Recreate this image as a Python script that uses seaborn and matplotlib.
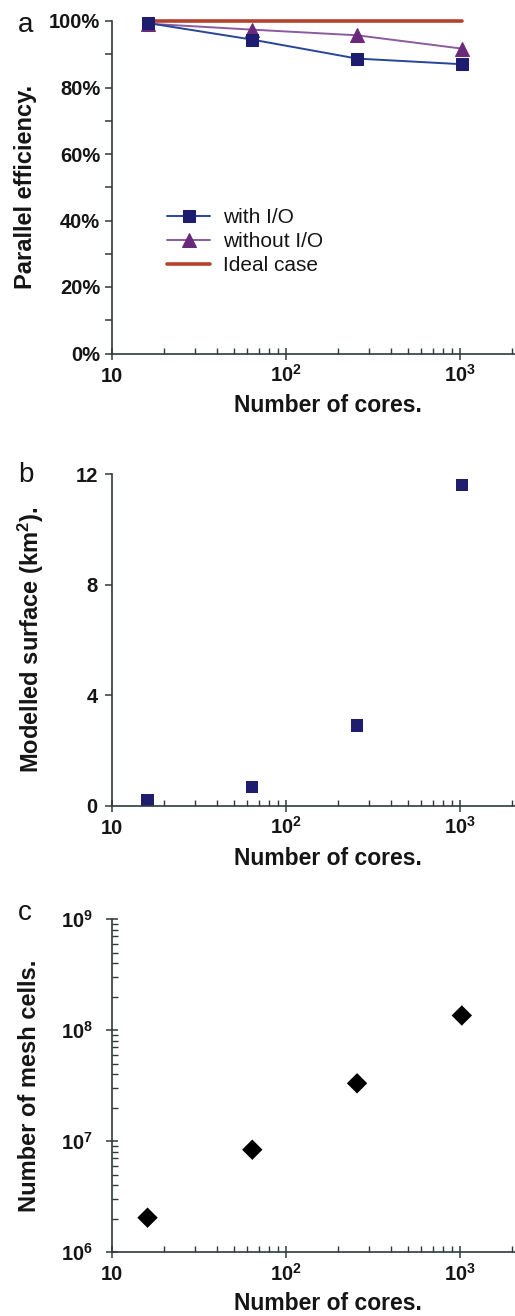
import matplotlib
matplotlib.use('Agg')
import matplotlib.pyplot as plt
import numpy as np
import pandas as pd
import seaborn as sns
from matplotlib.ticker import FixedLocator, LogLocator, NullFormatter

# ---------------- data ----------------
cores = [16, 64, 256, 1024]
eff_with_io = [99.4, 94.4, 88.7, 87.0]
eff_without_io = [99.2, 97.4, 95.7, 91.7]
eff_ideal = [100.0, 100.0, 100.0, 100.0]
series_names = ['with I/O', 'without I/O', 'Ideal case']
surface_km2 = [0.2, 0.69, 2.9, 11.6]
mesh_cells = [2.05e6, 8.4e6, 3.33e7, 1.36e8]

x_ticks = [10, 100, 1000]
x_tick_labels = ['10', r'$\mathbf{10^{2}}$', r'$\mathbf{10^{3}}$']
eff_ticks = [0, 20, 40, 60, 80, 100]
eff_minor_ticks = [10, 30, 50, 70, 90]
eff_tick_labels = ['0%', '20%', '40%', '60%', '80%', '100%']
surface_ticks = [0, 4, 8, 12]
surface_tick_labels = ['0', '4', '8', '12']
mesh_ticks = [1e6, 1e7, 1e8, 1e9]
mesh_tick_labels = [r'$\mathbf{10^{6}}$', r'$\mathbf{10^{7}}$',
                    r'$\mathbf{10^{8}}$', r'$\mathbf{10^{9}}$']

# ---------------- style ----------------
sns.set_style('ticks')
plt.rcParams['font.family'] = ['Liberation Sans', 'DejaVu Sans']
plt.rcParams['font.weight'] = 'bold'
plt.rcParams['mathtext.fontset'] = 'custom'
plt.rcParams['mathtext.rm'] = 'Liberation Sans'
plt.rcParams['mathtext.bf'] = 'Liberation Sans:bold'
plt.rcParams['mathtext.it'] = 'Liberation Sans:italic'

SPINE = '#2e3b3b'
TXT = '#151515'
TICK_FS = 14.5

W, H = 515, 1316
fig = plt.figure(figsize=(W / 100, H / 100), dpi=100)
fig.patch.set_facecolor('white')


def ax_rect(top_px, bottom_px, left_px=112, right_px=515):
    return [left_px / W, 1 - bottom_px / H, (right_px - left_px) / W,
            (bottom_px - top_px) / H]


ax_a = fig.add_axes(ax_rect(21, 353.5))
ax_b = fig.add_axes(ax_rect(474.3, 805.7))
ax_c = fig.add_axes(ax_rect(919.3, 1252.3))

# ---------------- panel a ----------------
eff_df = pd.DataFrame({
    'cores': cores * 3,
    'eff': eff_with_io + eff_without_io + eff_ideal,
    'series': np.repeat(series_names, len(cores)),
})
styles = {
    'Ideal case': dict(color='#b4432e', linewidth=2.6, zorder=2),
    'without I/O': dict(color='#8c5a9e', linewidth=1.4, marker='^', markersize=10,
                        markerfacecolor='#6a2a7c', markeredgecolor='#6a2a7c', zorder=3),
    'with I/O': dict(color='#27459a', linewidth=1.4, marker='s', markersize=8,
                     markerfacecolor='#1e1c6e', markeredgecolor='#1e1c6e', zorder=4),
}
for name in ['Ideal case', 'without I/O', 'with I/O']:
    sub = eff_df[eff_df['series'] == name]
    sns.lineplot(data=sub, x='cores', y='eff', ax=ax_a, label=name,
                 clip_on=False, **styles[name])

handles, labels = ax_a.get_legend_handles_labels()
order = [labels.index(n) for n in series_names]
ax_a.legend([handles[i] for i in order], [labels[i] for i in order],
            loc='upper left', bbox_to_anchor=(0.1365, 0.437), frameon=False,
            prop={'size': 15, 'weight': 'normal'}, handlelength=2.07,
            handletextpad=0.62, labelspacing=0.24, borderpad=0, borderaxespad=0,
            labelcolor=TXT)

ax_a.set_ylim(0, 100)
ax_a.set_yticks(eff_ticks, labels=eff_tick_labels)
ax_a.yaxis.set_minor_locator(FixedLocator(eff_minor_ticks))
ax_a.tick_params(axis='y', which='both', direction='out', length=5, width=1.1,
                 pad=3.4, labelsize=TICK_FS, color=SPINE, labelcolor=TXT)
ax_a.set_ylabel('Parallel efficiency.', fontsize=17, fontweight='bold', va='center', color=TXT)
ax_a.yaxis.set_label_coords((26 - 112) / 403, 0.5)

# ---------------- panel b ----------------
sns.scatterplot(x=cores, y=surface_km2, ax=ax_b, marker='s', s=78,
                color='#1f1d6d', edgecolor='none', linewidth=0, clip_on=False)
ax_b.set_ylim(0, 12)
ax_b.set_yticks(surface_ticks, labels=surface_tick_labels)
ax_b.tick_params(axis='y', which='major', direction='out', length=5, width=1.1,
                 pad=5.2, labelsize=TICK_FS, color=SPINE, labelcolor=TXT)
ax_b.set_ylabel('Modelled surface (km$^\\mathbf{2}$).', fontsize=17, fontweight='bold',
                va='center', color=TXT)
ax_b.yaxis.set_label_coords((31 - 112) / 403, 0.5)

# ---------------- panel c ----------------
sns.scatterplot(x=cores, y=mesh_cells, ax=ax_c, marker='D', s=108,
                color='black', edgecolor='none', linewidth=0, clip_on=False)
ax_c.set_yscale('log')
ax_c.set_ylim(1e6, 1e9)
ax_c.set_yticks(mesh_ticks, labels=mesh_tick_labels)
ax_c.yaxis.set_minor_locator(LogLocator(base=10, subs=np.arange(2, 10), numticks=20))
ax_c.yaxis.set_minor_formatter(NullFormatter())
ax_c.tick_params(axis='y', which='major', direction='inout', length=8.5, width=1.1,
                 pad=9.3, labelsize=TICK_FS, color=SPINE, labelcolor=TXT)
ax_c.tick_params(axis='y', which='minor', direction='in', length=4.5, width=1.0, color=SPINE)
ax_c.set_ylabel('Number of mesh cells.', fontsize=17, fontweight='bold', va='center', color=TXT)
ax_c.yaxis.set_label_coords((30 - 112) / 403, 0.5)

# ---------------- shared x axes ----------------
xlabel_y = {ax_a: (353.5 - 412) / 332.5, ax_b: (805.7 - 865) / 331.4,
            ax_c: (1252.3 - 1310.5) / 333}
for ax in (ax_a, ax_b, ax_c):
    ax.set_xscale('log')
    ax.set_xlim(10, 2070)
    ax.set_xticks(x_ticks, labels=x_tick_labels)
    ax.xaxis.set_minor_locator(LogLocator(base=10, subs=np.arange(2, 10), numticks=20))
    ax.xaxis.set_minor_formatter(NullFormatter())
    ax.tick_params(axis='x', which='major', direction='inout', length=8.5, width=1.1,
                   pad=16, labelsize=TICK_FS, color=SPINE, labelcolor=TXT)
    ax.tick_params(axis='x', which='minor', direction='in', length=4.5, width=1.0, color=SPINE)
    for lbl in ax.get_xticklabels():
        lbl.set_verticalalignment('baseline')
    ax.set_xlabel('Number of cores.', fontsize=16.5, fontweight='bold', va='baseline', color=TXT)
    ax.xaxis.set_label_coords(0.535, xlabel_y[ax])
    sns.despine(ax=ax)
    for side in ('left', 'bottom'):
        ax.spines[side].set_color(SPINE)
        ax.spines[side].set_linewidth(1.2)
    ax.set_facecolor('white')

# ---------------- panel letters ----------------
for letter, base_px in (('a', 32), ('b', 482), ('c', 920)):
    fig.text(18 / W, 1 - base_px / H, letter, fontsize=20, fontweight='normal',
             ha='left', va='baseline', color=TXT)

fig.savefig('out.png', dpi=100, facecolor='white')
